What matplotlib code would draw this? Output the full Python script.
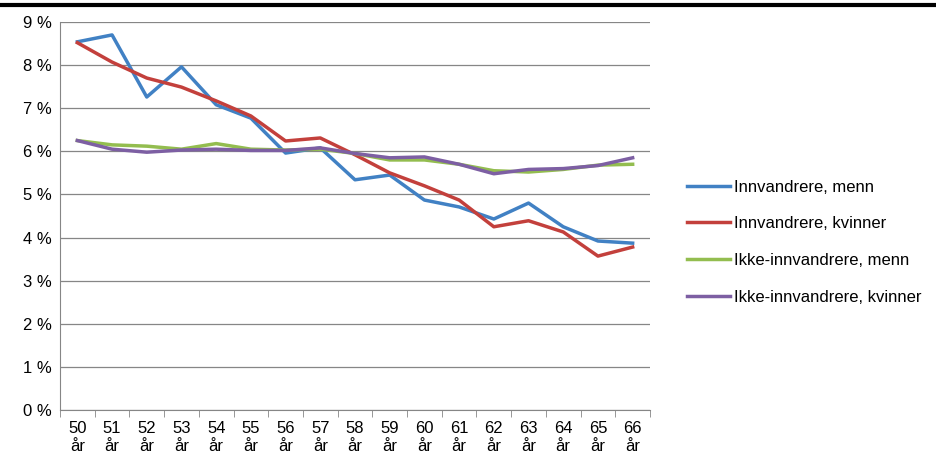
import matplotlib
matplotlib.use("Agg")
import matplotlib.pyplot as plt
from matplotlib.ticker import FuncFormatter

ages = [str(a) for a in range(50, 67)]
innv_menn = [8.54, 8.70, 7.26, 7.96, 7.08, 6.77, 5.96, 6.08, 5.34, 5.45, 4.87, 4.71, 4.43, 4.80, 4.25, 3.92, 3.87]
innv_kvinner = [8.52, 8.07, 7.70, 7.49, 7.17, 6.82, 6.24, 6.31, 5.92, 5.50, 5.20, 4.87, 4.25, 4.39, 4.13, 3.57, 3.78]
ikke_menn = [6.25, 6.15, 6.12, 6.05, 6.18, 6.05, 6.03, 6.05, 5.95, 5.80, 5.80, 5.70, 5.55, 5.52, 5.58, 5.68, 5.70]
ikke_kvinner = [6.25, 6.05, 5.98, 6.03, 6.05, 6.02, 6.02, 6.08, 5.95, 5.85, 5.87, 5.70, 5.48, 5.58, 5.60, 5.67, 5.85]

plt.rcParams['font.family'] = ['Liberation Sans', 'DejaVu Sans']
fig = plt.figure(figsize=(9.36, 4.71), dpi=100)
ax = fig.add_axes([60/936, 1 - 410/471, 590/936, 388/471])

x = range(len(ages))
ax.plot(x, innv_menn, color='#4181c4', lw=2.5, label='Innvandrere, menn')
ax.plot(x, innv_kvinner, color='#c3403c', lw=2.5, label='Innvandrere, kvinner')
ax.plot(x, ikke_menn, color='#93bd4f', lw=2.5, label='Ikke-innvandrere, menn')
ax.plot(x, ikke_kvinner, color='#7d5fa3', lw=2.5, label='Ikke-innvandrere, kvinner')

ax.set_ylim(0, 9)
ax.set_xlim(-0.5, len(ages) - 0.5)
ax.set_yticks(range(10))
ax.yaxis.set_major_formatter(FuncFormatter(lambda v, p: f"{int(v)} %"))
ax.set_xticks(list(x))
ax.set_xticklabels([a + "\når" for a in ages])
ax.set_xticks([i - 0.5 for i in range(len(ages) + 1)], minor=True)
ax.tick_params(axis='x', which='major', length=0, labelsize=12, pad=8)
ax.tick_params(axis='x', which='minor', length=5, color='#868686')
ax.tick_params(axis='y', length=0, labelsize=12, pad=6)
ax.grid(axis='y', color='#868686', lw=0.9)
ax.set_axisbelow(True)
for s in ['top', 'right']:
    ax.spines[s].set_visible(False)
for s in ['left', 'bottom']:
    ax.spines[s].set_color('#868686')

fig.legend(loc='center left', bbox_to_anchor=(672/936, 1 - 242/471), frameon=False,
           fontsize=12, handlelength=2.6, handletextpad=0.2, labelspacing=1.3)
fig.add_artist(plt.Line2D([0, 1], [1 - 5/471, 1 - 5/471], color='black', lw=3))

fig.savefig('out.png', dpi=100)
